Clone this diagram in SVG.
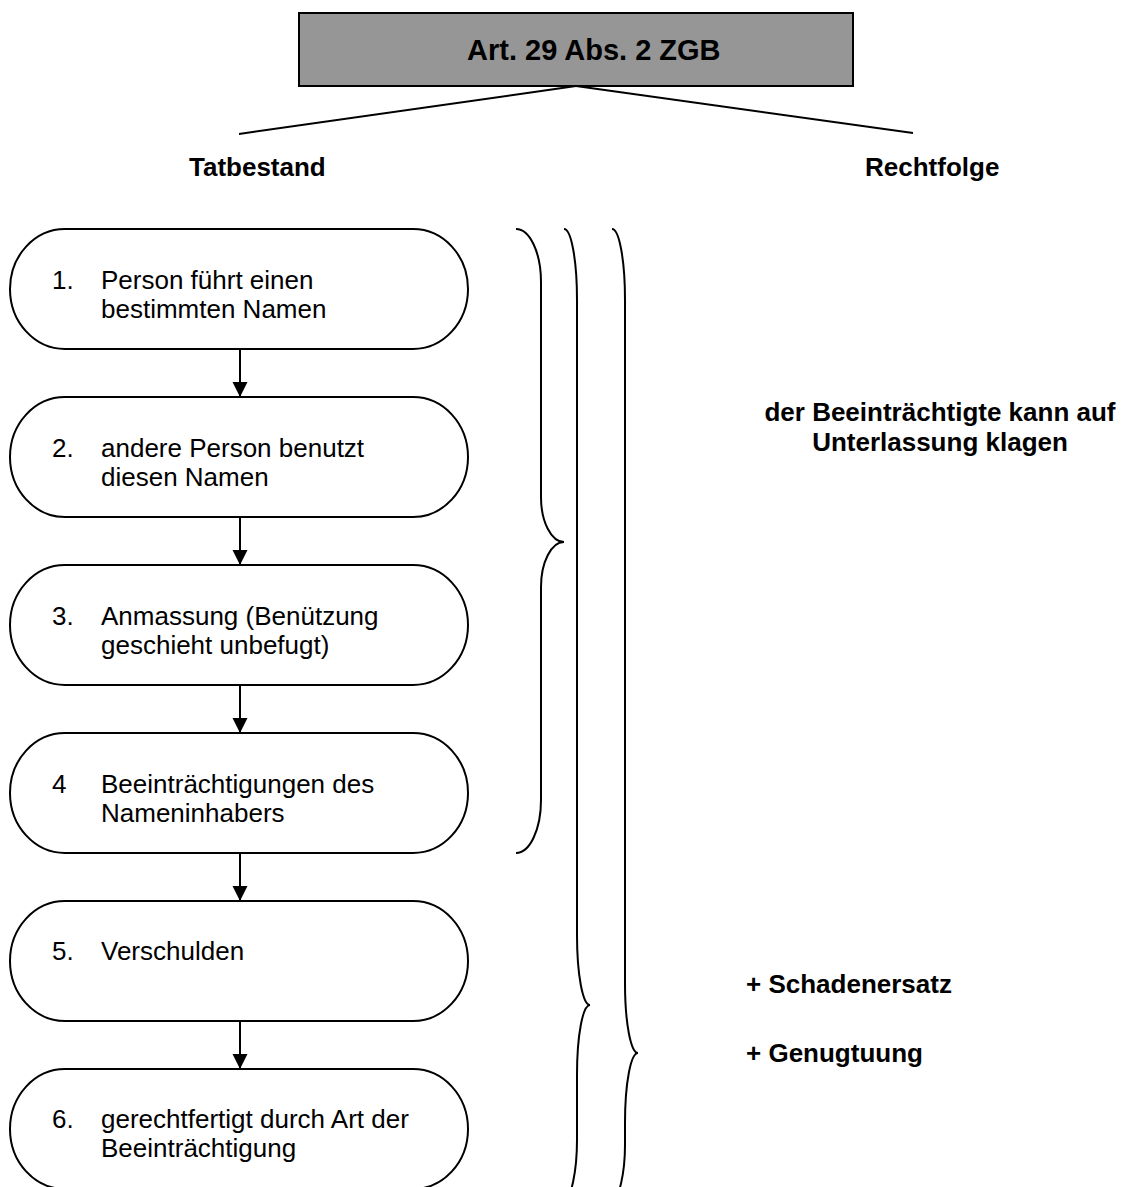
<svg xmlns="http://www.w3.org/2000/svg" width="1128" height="1187" viewBox="0 0 1128 1187">
<defs>
<style>
.n{fill:#fff;stroke:#000;stroke-width:2}
.t{font-family:"Liberation Sans",Arial,sans-serif;font-size:26px;fill:#000}
.b{font-family:"Liberation Sans",Arial,sans-serif;font-size:26px;font-weight:bold;fill:#000}
.l{fill:none;stroke:#000;stroke-width:2}
</style>
<marker id="ah" markerWidth="16" markerHeight="16" refX="15" refY="7.5" orient="auto" markerUnits="userSpaceOnUse" viewBox="0 0 16 16">
<path d="M0,0 L15,7.5 L0,15 Z" fill="#000"/>
</marker>
</defs>
<rect width="1128" height="1187" fill="#fff"/>
<g id="title">
<rect x="299" y="13" width="554" height="73" fill="#969696" stroke="#000" stroke-width="2"/>
<text x="467" y="60" font-family="'Liberation Sans',Arial,sans-serif" font-size="29" font-weight="bold">Art. 29 Abs. 2 ZGB</text>
</g>
<g id="connectors">
<path class="l" d="M576,86 L239,134"/>
<path class="l" d="M576,86 L913,133"/>
<path class="l" d="M240,349 V397" marker-end="url(#ah)"/>
<path class="l" d="M240,517 V565" marker-end="url(#ah)"/>
<path class="l" d="M240,685 V733" marker-end="url(#ah)"/>
<path class="l" d="M240,853 V901" marker-end="url(#ah)"/>
<path class="l" d="M240,1021 V1069" marker-end="url(#ah)"/>
</g>
<g id="label-tatbestand"><text class="b" x="189" y="176">Tatbestand</text></g>
<g id="label-rechtfolge"><text class="b" x="865" y="176">Rechtfolge</text></g>
<g id="node1">
<rect class="n" x="10" y="229" width="458" height="120" rx="55" ry="60"/>
<text class="t" x="52" y="289">1.</text>
<text class="t" x="101" y="289">Person führt einen</text>
<text class="t" x="101" y="318">bestimmten Namen</text>
</g>
<g id="node2">
<rect class="n" x="10" y="397" width="458" height="120" rx="55" ry="60"/>
<text class="t" x="52" y="457">2.</text>
<text class="t" x="101" y="457">andere Person benutzt</text>
<text class="t" x="101" y="486">diesen Namen</text>
</g>
<g id="node3">
<rect class="n" x="10" y="565" width="458" height="120" rx="55" ry="60"/>
<text class="t" x="52" y="625">3.</text>
<text class="t" x="101" y="625">Anmassung (Benützung</text>
<text class="t" x="101" y="654">geschieht unbefugt)</text>
</g>
<g id="node4">
<rect class="n" x="10" y="733" width="458" height="120" rx="55" ry="60"/>
<text class="t" x="52" y="793">4</text>
<text class="t" x="101" y="793">Beeinträchtigungen des</text>
<text class="t" x="101" y="822">Nameninhabers</text>
</g>
<g id="node5">
<rect class="n" x="10" y="901" width="458" height="120" rx="55" ry="60"/>
<text class="t" x="52" y="960">5.</text>
<text class="t" x="101" y="960">Verschulden</text>
</g>
<g id="node6">
<rect class="n" x="10" y="1069" width="458" height="120" rx="55" ry="60"/>
<text class="t" x="52" y="1128">6.</text>
<text class="t" x="101" y="1128">gerechtfertigt durch Art der</text>
<text class="t" x="101" y="1157">Beeinträchtigung</text>
</g>
<g id="braces">
<path class="l" d="M516,229 C529.8,229 541,252.7 541,282 L541,497 C541,521.8 551.3,542 564,542 C551.3,542 541,562.2 541,587 L541,800 C541,829.3 529.8,853 516,853"/>
<path class="l" d="M564,229 C571.2,229 577,260 577,300 L577,935 C577,975 582.8,1005 590,1005 C582.8,1005 577,1035 577,1075 L577,1140 C577,1170 571.2,1200 564,1200"/>
<path class="l" d="M612,229 C619.2,229 625,260 625,300 L625,983 C625,1023 630.8,1053 638,1053 C630.8,1053 625,1083 625,1123 L625,1145 C625,1172 619.2,1200 612,1200"/>
</g>
<g id="label-unterlassung">
<text class="b" x="940" y="421" text-anchor="middle">der Beeinträchtigte kann auf</text>
<text class="b" x="940" y="451" text-anchor="middle">Unterlassung klagen</text>
</g>
<g id="label-schadenersatz"><text class="b" x="746" y="993">+ Schadenersatz</text></g>
<g id="label-genugtuung"><text class="b" x="746" y="1062">+ Genugtuung</text></g>
</svg>
